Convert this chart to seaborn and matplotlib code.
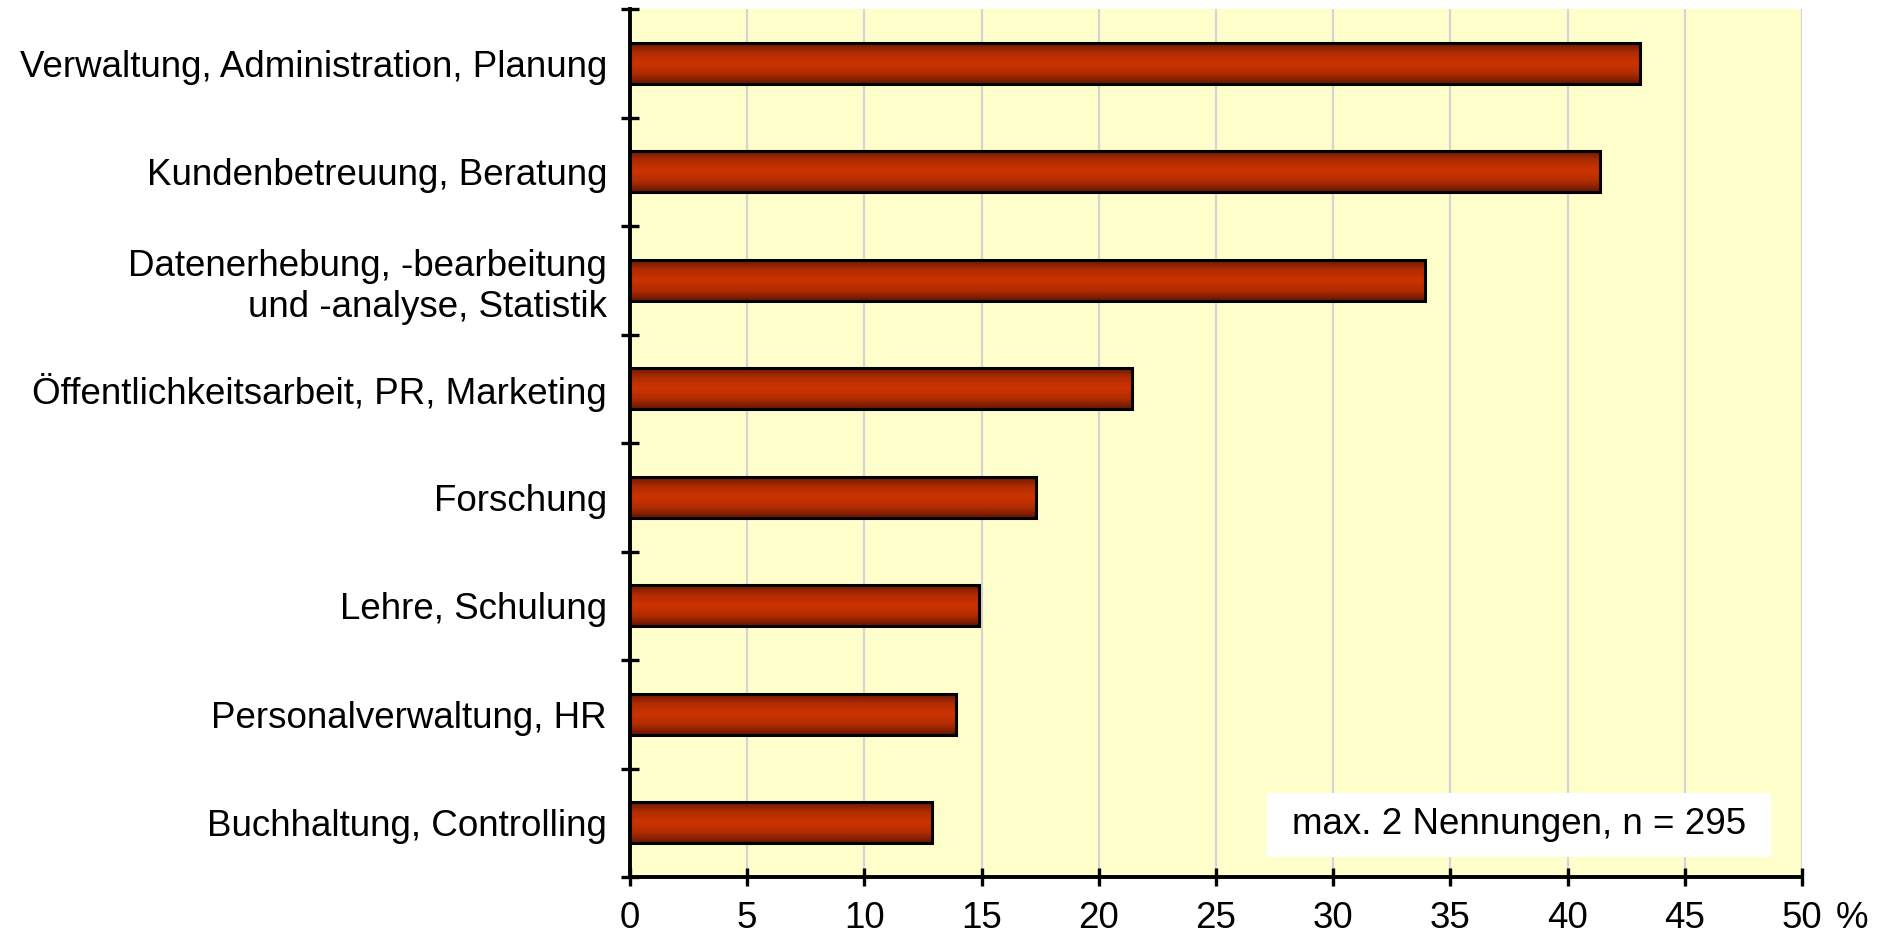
# -*- coding: utf-8 -*-
"""
Tätigkeitsbereiche (max. 2 Nennungen, n = 295) - horizontales Balkendiagramm
Ausgabe: out.png
"""

import numpy as np
import pandas as pd
import matplotlib
matplotlib.use('Agg')
import matplotlib.pyplot as plt
from matplotlib.colors import LinearSegmentedColormap
from matplotlib.patches import Rectangle
import seaborn as sns

# ============================================================
# Daten
# ============================================================
categories = [
    'Verwaltung, Administration, Planung',
    'Kundenbetreuung, Beratung',
    'Datenerhebung, -bearbeitung\nund -analyse, Statistik',
    'Öffentlichkeitsarbeit, PR, Marketing',
    'Forschung',
    'Lehre, Schulung',
    'Personalverwaltung, HR',
    'Buchhaltung, Controlling',
]
shares = [43.1, 41.4, 33.9, 21.4, 17.3, 14.9, 13.9, 12.9]

x_ticks = [0, 5, 10, 15, 20, 25, 30, 35, 40, 45, 50]
x_ticklabels = ['0', '5', '10', '15', '20', '25', '30', '35', '40', '45', '50']
x_unit = '%'
note = 'max. 2 Nennungen, n = 295'

# ============================================================
# Stil
# ============================================================
sns.set_style('white')
plt.rcParams['font.family'] = ['Liberation Sans', 'DejaVu Sans']
plt.rcParams.update({
    'text.color': 'black',
    'xtick.color': 'black',
    'ytick.color': 'black',
    'xtick.labelcolor': 'black',
    'ytick.labelcolor': 'black',
})

FS = 26.5
BG = '#FFFFCC'
GRID = '#D4D4D4'
bar_cmap = LinearSegmentedColormap.from_list(
    'bar', ['#CC3300', '#B02C00', '#661600'])

df = pd.DataFrame({'Bereich': categories, 'Anteil': shares})

# ============================================================
# Plot
# ============================================================
fig = plt.figure(figsize=(18.86, 9.42), dpi=100)
ax = fig.add_axes([630 / 1886, 1 - 877 / 942, 1172 / 1886, 868 / 942])
ax.set_facecolor(BG)

sns.barplot(data=df, x='Anteil', y='Bereich', orient='h',
            width=0.38, color='#C83200', saturation=1,
            edgecolor='black', linewidth=2.2, zorder=3, ax=ax)

# Farbverlauf in den Balken (dunkel oben/unten, hell in der Mitte)
shade = np.abs(np.linspace(-1, 1, 80)).reshape(-1, 1)
for patch in list(ax.patches):
    x0, y0 = patch.get_x(), patch.get_y()
    w, h = patch.get_width(), patch.get_height()
    img = ax.imshow(shade, cmap=bar_cmap, aspect='auto',
                    extent=[x0, x0 + w, y0 + h, y0],
                    interpolation='bicubic', zorder=2.9)
    img.set_clip_path(patch)
    patch.set_facecolor('none')

ax.set_xlim(0, 50)
ax.set_ylim(len(categories) - 0.5, -0.5)
ax.set_xlabel('')
ax.set_ylabel('')

# x-Achse
ax.set_xticks(x_ticks)
ax.set_xticklabels(x_ticklabels, fontsize=FS)
ax.tick_params(axis='x', bottom=True, direction='inout', length=13,
               width=2.4, pad=11, colors='black')
ax.annotate(x_unit, xy=(x_ticks[-1], 0), xycoords=ax.get_xaxis_transform(),
            xytext=(24, -17.5), textcoords='offset points',
            ha='left', va='top', fontsize=FS, annotation_clip=False)

# y-Achse: Striche zwischen den Kategorien, Beschriftung mittig
ax.set_yticks(np.arange(-0.5, len(categories)))
ax.set_yticklabels([])
ax.set_yticks(np.arange(len(categories)), minor=True)
ax.set_yticklabels(categories, minor=True, fontsize=FS)
ax.tick_params(axis='y', which='major', left=True, direction='inout',
               length=13, width=2.4, colors='black')
ax.tick_params(axis='y', which='minor', left=True, length=0, pad=16.5)

# Gitter + Rahmen
ax.grid(axis='x', color=GRID, linewidth=1.6)
ax.grid(axis='y', visible=False)
ax.set_axisbelow(True)
for side in ['top', 'right']:
    ax.spines[side].set_visible(False)
for side in ['left', 'bottom']:
    ax.spines[side].set_linewidth(2.8)
    ax.spines[side].set_color('black')

# Hinweis-Box
ax.add_patch(Rectangle((0.5435, 0.023), 0.43, 0.0738, transform=ax.transAxes,
                       facecolor='white', edgecolor='none', zorder=4))
ax.text(0.7585, 0.06, note, transform=ax.transAxes, ha='center',
        va='center', fontsize=FS, zorder=5)

fig.savefig('out.png', dpi=100)
plt.close(fig)
